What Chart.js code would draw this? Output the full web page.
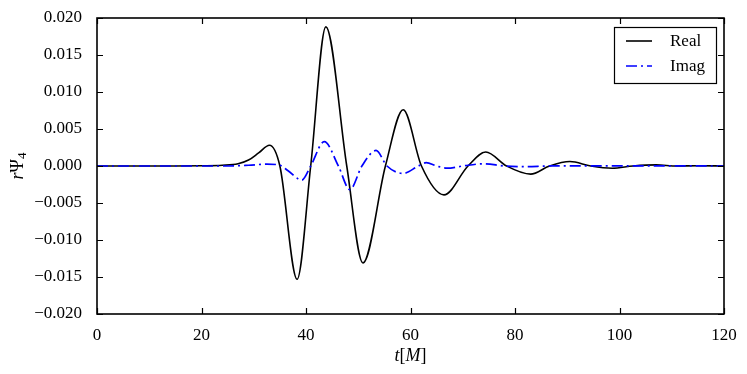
<!DOCTYPE html>
<html>
<head>
<meta charset="utf-8">
<script src="https://cdn.jsdelivr.net/npm/chart.js@4/dist/chart.umd.min.js"></script>
<style>
  html, body { margin: 0; padding: 0; background: #fff; }
  #wrap { width: 747px; height: 374px; }
</style>
</head>
<body>
<div id="wrap"><canvas id="grafica"></canvas></div>
<script>
// Datos
const tReal = [0, 15, 20, 24, 27, 29, 31, 33, 35, 38.3, 40.9, 43.8, 47.8, 50.9, 55.2, 58.6, 62.1, 66.4, 71, 74.4, 78.4, 83, 86.6, 90.5, 94.5, 98.6, 102.6, 107, 111, 115, 120];
const vReal = [0, 0, 0.00003, 0.0001, 0.0003, 0.0008, 0.0018, 0.0028, 0, -0.0153, 0, 0.0188, 0, -0.0131, 0, 0.0076, 0, -0.0039, 0, 0.0019, 0, -0.0011, 0, 0.0006, 0, -0.0003, 0, 0.00015, 0, 0.00003, 0];
const tImag = [0, 25, 29, 32.5, 35, 36.5, 39.2, 40.9, 43.5, 46.2, 48.4, 50.7, 53.4, 55.5, 58.6, 61.5, 63, 65, 67, 70, 74, 78, 82, 86, 90, 120];
const vImag = [0, 0, 0.0001, 0.00025, 0.0001, -0.0006, -0.0019, 0, 0.0033, 0, -0.0032, 0, 0.0021, 0, -0.0010, 0, 0.00045, 0, -0.0003, 0, 0.0003, 0, -0.00008, 0, 0.00003, 0];
const xTicks = [0, 20, 40, 60, 80, 100, 120];
const yTicks = [-0.020, -0.015, -0.010, -0.005, 0, 0.005, 0.010, 0.015, 0.020];

const fuente = '"Liberation Serif", "DejaVu Serif", serif';

const puntos = (ts, vs) => ts.map((t, i) => ({ x: t, y: vs[i] }));

// Marco, ticks hacia dentro, leyenda y títulos de ejes
const decoracion = {
  id: 'decoracion',
  afterDraw(chart) {
    const ctx = chart.ctx;
    const a = chart.chartArea;
    const sx = chart.scales.x, sy = chart.scales.y;
    ctx.save();
    ctx.strokeStyle = '#000';
    ctx.lineWidth = 1.6;
    ctx.strokeRect(a.left, a.top, a.right - a.left, a.bottom - a.top);
    ctx.lineWidth = 1.2;
    const L = 6;
    ctx.beginPath();
    xTicks.forEach(t => {
      const px = Math.round(sx.getPixelForValue(t)) + 0.5;
      ctx.moveTo(px, a.bottom); ctx.lineTo(px, a.bottom - L);
      ctx.moveTo(px, a.top); ctx.lineTo(px, a.top + L);
    });
    yTicks.forEach(v => {
      const py = Math.round(sy.getPixelForValue(v)) + 0.5;
      ctx.moveTo(a.left, py); ctx.lineTo(a.left + L, py);
      ctx.moveTo(a.right, py); ctx.lineTo(a.right - L, py);
    });
    ctx.stroke();

    // leyenda
    const bx = 614, by = 27, bw = 102, bh = 56;
    ctx.fillStyle = '#fff';
    ctx.fillRect(bx, by, bw, bh);
    ctx.lineWidth = 1.2;
    ctx.strokeStyle = '#000';
    ctx.strokeRect(bx + 0.5, by + 0.5, bw, bh);
    chart.data.datasets.forEach((ds, i) => {
      const y = by + 14 + i * 25;
      ctx.beginPath();
      ctx.strokeStyle = ds.borderColor;
      ctx.lineWidth = ds.borderWidth;
      ctx.setLineDash(ds.borderDash || []);
      ctx.moveTo(bx + 12, y); ctx.lineTo(bx + 38, y);
      ctx.stroke();
      ctx.setLineDash([]);
      ctx.fillStyle = '#000';
      ctx.font = '17px ' + fuente;
      ctx.textBaseline = 'middle';
      ctx.textAlign = 'left';
      ctx.fillText(ds.label, bx + 56, y + 1);
    });

    // título eje x: t[M]
    ctx.fillStyle = '#000';
    ctx.textBaseline = 'alphabetic';
    const partesX = [['italic ', 't'], ['', '['], ['italic ', 'M'], ['', ']']];
    let ancho = 0;
    partesX.forEach(p => { ctx.font = p[0] + '18px ' + fuente; ancho += ctx.measureText(p[1]).width; });
    let x0 = (a.left + a.right) / 2 - ancho / 2;
    partesX.forEach(p => {
      ctx.font = p[0] + '18px ' + fuente;
      ctx.fillText(p[1], x0, 361);
      x0 += ctx.measureText(p[1]).width;
    });

    // título eje y: rΨ4
    ctx.translate(23, (a.top + a.bottom) / 2);
    ctx.rotate(-Math.PI / 2);
    ctx.font = 'italic 18px ' + fuente;
    const w1 = ctx.measureText('r').width;
    ctx.font = '18px ' + fuente;
    const w2 = ctx.measureText('Ψ').width;
    ctx.font = '13px ' + fuente;
    const w3 = ctx.measureText('4').width;
    let y0 = -(w1 + w2 + w3) / 2;
    ctx.font = 'italic 18px ' + fuente;
    ctx.fillText('r', y0, 0); y0 += w1;
    ctx.font = '18px ' + fuente;
    ctx.fillText('Ψ', y0, 0); y0 += w2;
    ctx.font = '13px ' + fuente;
    ctx.fillText('4', y0, 3);
    ctx.restore();
  }
};

new Chart(document.querySelector('#grafica'), {
  type: 'line',
  data: {
    datasets: [
      {
        label: 'Real',
        data: puntos(tReal, vReal),
        borderColor: '#000000',
        borderWidth: 1.6,
        pointRadius: 0,
        cubicInterpolationMode: 'monotone',
        fill: false,
        order: 1,
      },
      {
        label: 'Imag',
        data: puntos(tImag, vImag),
        borderColor: '#0000ff',
        borderWidth: 1.7,
        borderDash: [11, 4, 2, 4],
        pointRadius: 0,
        cubicInterpolationMode: 'monotone',
        fill: false,
        order: 0,
      },
    ],
  },
  options: {
    responsive: true,
    maintainAspectRatio: false,
    animation: false,
    layout: { padding: { top: 18, right: 23, left: 0, bottom: 0 } },
    plugins: { legend: { display: false }, tooltip: { enabled: false } },
    scales: {
      x: {
        type: 'linear',
        min: 0, max: 120,
        afterBuildTicks: s => { s.ticks = xTicks.map(v => ({ value: v })); },
        afterFit: s => { s.height = 60; s.paddingLeft = 0; s.paddingRight = 0; },
        grid: { display: false, drawTicks: false },
        border: { display: false },
        ticks: { padding: 11, color: '#000', font: { family: fuente, size: 17 }, maxRotation: 0 },
      },
      y: {
        type: 'linear',
        min: -0.02, max: 0.02,
        afterBuildTicks: s => { s.ticks = yTicks.map(v => ({ value: v })); },
        afterFit: s => { s.width = 97; s.paddingTop = 0; s.paddingBottom = 0; },
        grid: { display: false, drawTicks: false },
        border: { display: false },
        ticks: {
          padding: 15, color: '#000', font: { family: fuente, size: 17 },
          callback: v => (v < -1e-9 ? '\u2212' : '') + Math.abs(v).toFixed(3),
        },
      },
    },
  },
  plugins: [decoracion],
});
</script>
</body>
</html>
